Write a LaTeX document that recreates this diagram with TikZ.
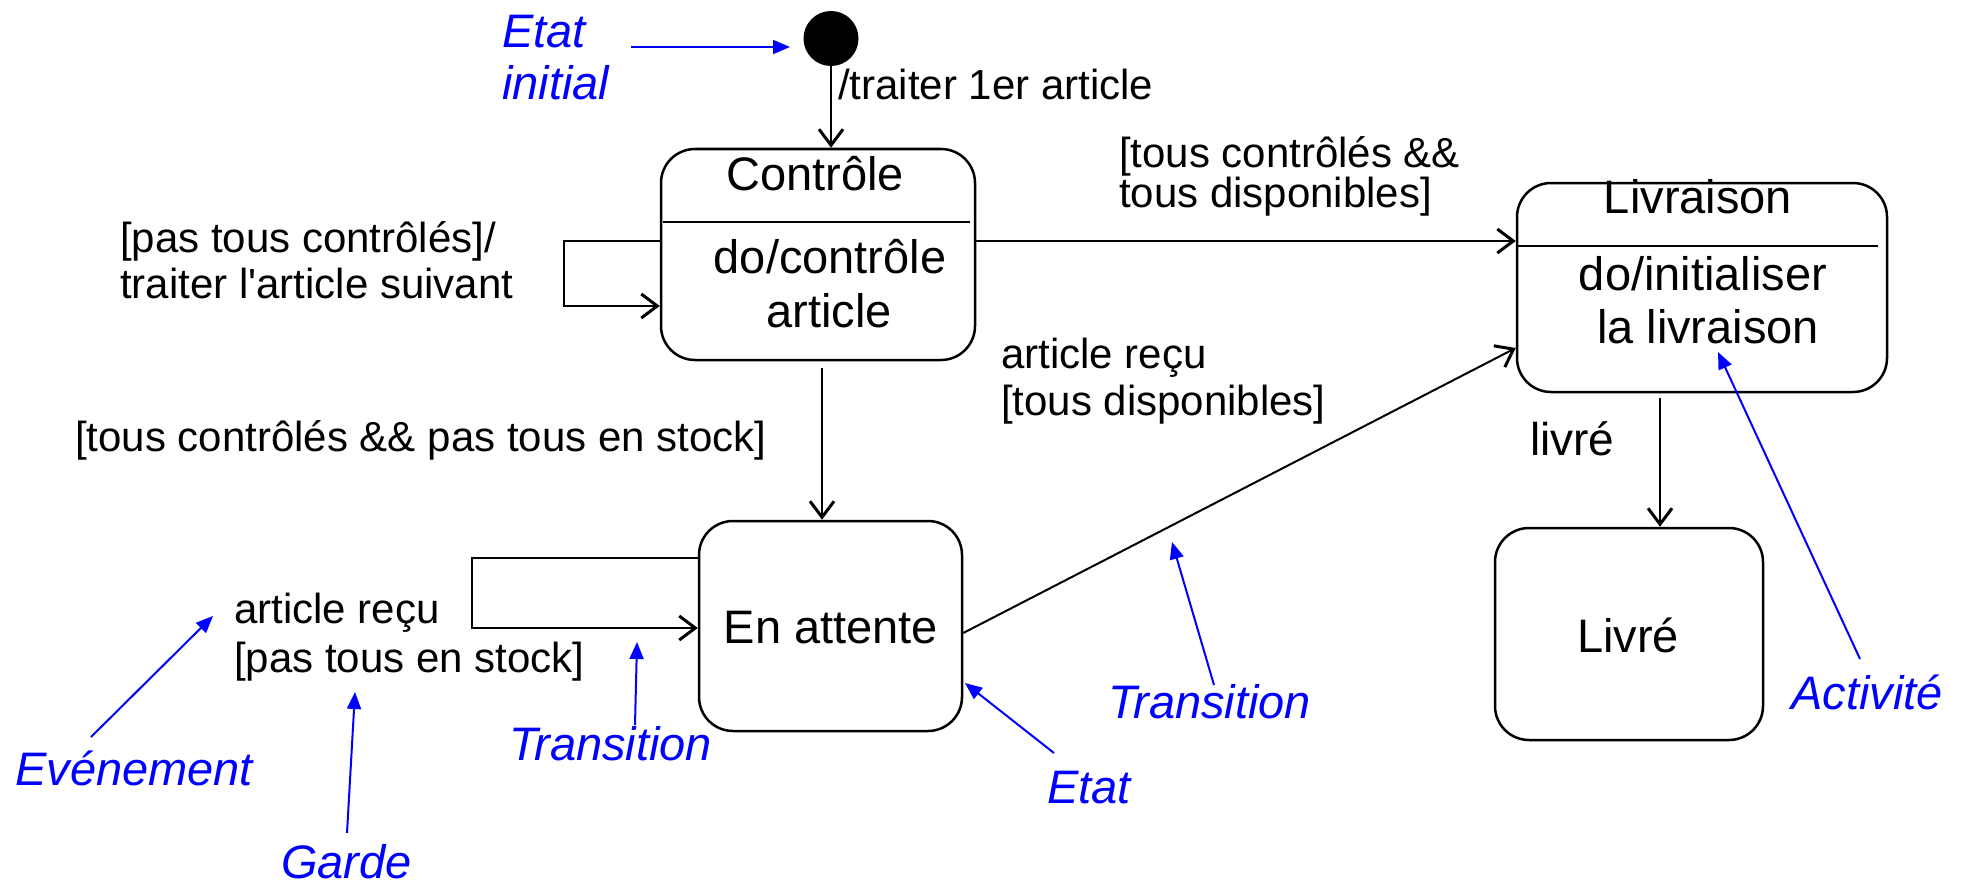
\documentclass[tikz,border=0pt]{standalone}
\usepackage{fontspec}
\setmainfont{Liberation Sans}
\newfontfamily\rawfont{Liberation Sans}
\usetikzlibrary{arrows.meta}
\begin{document}
\begin{tikzpicture}[x=1pt,y=-1pt,
  statebox/.style={draw, line width=2.5pt, rounded corners=34pt, inner sep=0pt},
  trans/.style={line width=2pt, -{Straight Barb[length=16pt,width=24pt,line width=3pt]}},
  ann/.style={blue, line width=2pt, -{Triangle[length=17pt,width=14pt]}},
  lab/.style={font=\fontsize{42}{48}\selectfont, inner sep=0pt, anchor=base west},
  boxtxt/.style={font=\fontsize{47}{54}\selectfont, inner sep=0pt, anchor=base},
  note/.style={font=\fontsize{47}{54}\selectfont\itshape, text=blue, inner sep=0pt, anchor=base west}]
\useasboundingbox (0,0) rectangle (1967,888);

% states
\node[circle, fill=black, minimum size=55pt, inner sep=0pt] (init) at (831,38.5) {};
\node[statebox, minimum width=314pt, minimum height=211pt] (ctrl) at (818,254.5) {};
\node[statebox, minimum width=263pt, minimum height=210pt] (att) at (830.5,626) {};
\node[statebox, minimum width=370pt, minimum height=209pt] (liv) at (1702,287.5) {};
\node[statebox, minimum width=268pt, minimum height=212pt] (livre) at (1629,634) {};

% state texts
\node[boxtxt] (ctrlT) at (815,190) {Contrôle};
\draw[line width=2pt] (663,222) -- (970,222);
\node[boxtxt] (ctrlA) at (830,273) {do/contrôle};
\node[boxtxt] (ctrlB) at (829,327) {article};
\node[boxtxt] (attT) at (831,643) {En attente};
\node[boxtxt] (livT) at (1698,213) {Livraison};
\draw[line width=2pt] (1517,246) -- (1878,246);
\node[boxtxt] (livA) at (1703,290) {do/initialiser};
\node[boxtxt] (livB) at (1708,343) {la livraison};
\node[boxtxt] (livreT) at (1628,652) {Livré};

% connector helper coordinates
\coordinate (l1) at (564,241);
\coordinate (l2) at (564,306);
\coordinate (c1) at (822,368);
\coordinate (h) at (0,241);
\coordinate (d1) at (0,633);
\coordinate (d2) at (0,348);
\coordinate (m1) at (472,558);
\coordinate (m2) at (472,628);
\coordinate (v1) at (1660,398);

% transitions
\draw[trans] (init.south) -- (init.south |- ctrl.north);
\draw[trans] (ctrl.west |- l1) -- (l1) -- (l2) -- (ctrl.west |- l2);
\draw[trans] (c1) -- (c1 |- att.north);
\draw[trans] (ctrl.east |- h) -- (liv.west |- h);
\draw[trans] (att.east |- d1) -- (liv.west |- d2);
\draw[trans] (att.west |- m1) -- (m1) -- (m2) -- (att.west |- m2);
\draw[trans] (v1) -- (v1 |- livre.north);

% transition labels
\node[lab] (t1) at (838,100) {/traiter 1er article};
\node[lab] (t2a) at (1119,167) {[tous contrôlés \&\&};
\node[lab] (t2b) at (1119,207) {tous disponibles]};
\node[lab] (t3a) at (120,252) {[pas tous contrôlés]/};
\node[lab] (t3b) at (120,298) {traiter l{\rawfont'}article suivant};
\node[lab] (t4) at (75,451) {[tous contrôlés \&\& pas tous en stock]};
\node[lab] (t5a) at (1001,368) {article reçu};
\node[lab] (t5b) at (1001,415) {[tous disponibles]};
\node[lab, font=\fontsize{46}{52}\selectfont] (t6) at (1530,455) {livré};
\node[lab] (t7a) at (234,623) {article reçu};
\node[lab] (t7b) at (234,672) {[pas tous en stock]};

% annotations
\node[note] (n1a) at (502,48) {Etat};
\node[note] (n1b) at (502,100) {initial};
\node[note] (n2) at (15,785) {Evénement};
\node[note] (n3) at (281,878) {Garde};
\node[note] (n4) at (509,760) {Transition};
\node[note] (n5) at (1047,803) {Etat};
\node[note] (n6) at (1108,718) {Transition};
\node[note] (n7) at (1791,709) {Activité};

\coordinate (a1s) at (631,47);   \coordinate (a1e) at (790,47);
\coordinate (a2s) at (91,737);   \coordinate (a2e) at (213,616);
\coordinate (a3s) at (347,833);  \coordinate (a3e) at (355,692);
\coordinate (a4s) at (635,725);  \coordinate (a4e) at (637,642);
\coordinate (a5s) at (1054,753); \coordinate (a5e) at (965,683);
\coordinate (a6s) at (1214,685); \coordinate (a6e) at (1172,542);
\coordinate (a7s) at (1860,659); \coordinate (a7e) at (1718,352);
\draw[ann] (a1s) -- (a1e);
\draw[ann] (a2s) -- (a2e);
\draw[ann] (a3s) -- (a3e);
\draw[ann] (a4s) -- (a4e);
\draw[ann] (a5s) -- (a5e);
\draw[ann] (a6s) -- (a6e);
\draw[ann] (a7s) -- (a7e);
\end{tikzpicture}
\end{document}
